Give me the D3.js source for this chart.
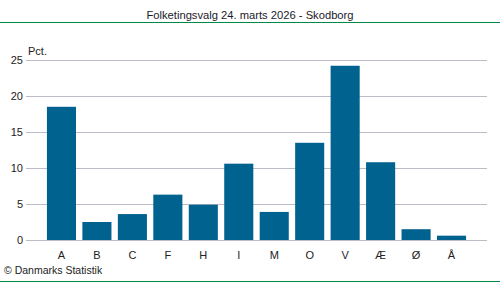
<!DOCTYPE html>
<html>
<head>
<meta charset="utf-8">
<script src="https://cdn.jsdelivr.net/npm/d3@7"></script>
<style>
body{margin:0;background:#fff;}
svg{display:block;font-family:"Liberation Sans",Arial,sans-serif;}
</style>
</head>
<body>
<svg id="chart" width="500" height="282"></svg>
<script>
// partier og stemmeandel i pct.
var parties=['A','B','C','F','H','I','M','O','V','Æ','Ø','Å'];
var pct=[18.5,2.5,3.6,6.3,4.9,10.6,3.9,13.5,24.2,10.8,1.5,0.6];
var yTicks=[0,5,10,15,20,25];

var svg=d3.select('#chart');
// (top er reserveret i window, derfor plotTop osv.)
var plotLeft=26,plotRight=487,plotTop=60,plotBottom=240;

var x=d3.scaleBand()
  .domain(parties)
  .range([plotLeft,plotRight])
  .paddingInner(0.18)
  .paddingOuter(0.59);
var y=d3.scaleLinear()
  .domain([0,25])
  .range([plotBottom,plotTop]);

// titel + streg
svg.append('text')
  .attr('x',250).attr('y',19)
  .attr('text-anchor','middle')
  .attr('font-size',11.2)
  .attr('fill','#1a1a2a')
  .text('Folketingsvalg 24. marts 2026 - Skodborg');
svg.append('line')
  .attr('x1',0).attr('x2',500).attr('y1',22.5).attr('y2',22.5)
  .attr('stroke','#008a45').attr('stroke-width',1);

// gitter
svg.selectAll('line.grid')
  .data(yTicks)
  .enter().append('line')
  .attr('class','grid')
  .attr('x1',plotLeft).attr('x2',plotRight)
  .attr('y1',d=>Math.round(y(d))+0.5)
  .attr('y2',d=>Math.round(y(d))+0.5)
  .attr('stroke','#bcbcc8').attr('stroke-width',1);

svg.selectAll('text.ytick')
  .data(yTicks)
  .enter().append('text')
  .attr('class','ytick')
  .attr('x',23)
  .attr('y',d=>y(d)+4)
  .attr('text-anchor','end')
  .attr('font-size',11)
  .attr('fill','#222')
  .text(d=>d);

svg.append('text')
  .attr('x',28).attr('y',55)
  .attr('font-size',11)
  .attr('fill','#222')
  .text('Pct.');

// søjler
svg.selectAll('rect.bar')
  .data(parties)
  .enter().append('rect')
  .attr('class','bar')
  .attr('x',d=>x(d))
  .attr('width',x.bandwidth())
  .attr('y',(d,i)=>y(pct[i]))
  .attr('height',(d,i)=>plotBottom-y(pct[i]))
  .attr('fill','#00628f');

svg.selectAll('text.xtick')
  .data(parties)
  .enter().append('text')
  .attr('class','xtick')
  .attr('x',d=>x(d)+x.bandwidth()/2)
  .attr('y',259)
  .attr('text-anchor','middle')
  .attr('font-size',11)
  .attr('fill','#222')
  .text(d=>d);

svg.append('text')
  .attr('x',4).attr('y',274)
  .attr('font-size',10.5)
  .attr('fill','#222')
  .text('© Danmarks Statistik');
svg.append('line')
  .attr('x1',0).attr('x2',500).attr('y1',281.5).attr('y2',281.5)
  .attr('stroke','#008a45').attr('stroke-width',1);
</script>
</body>
</html>
